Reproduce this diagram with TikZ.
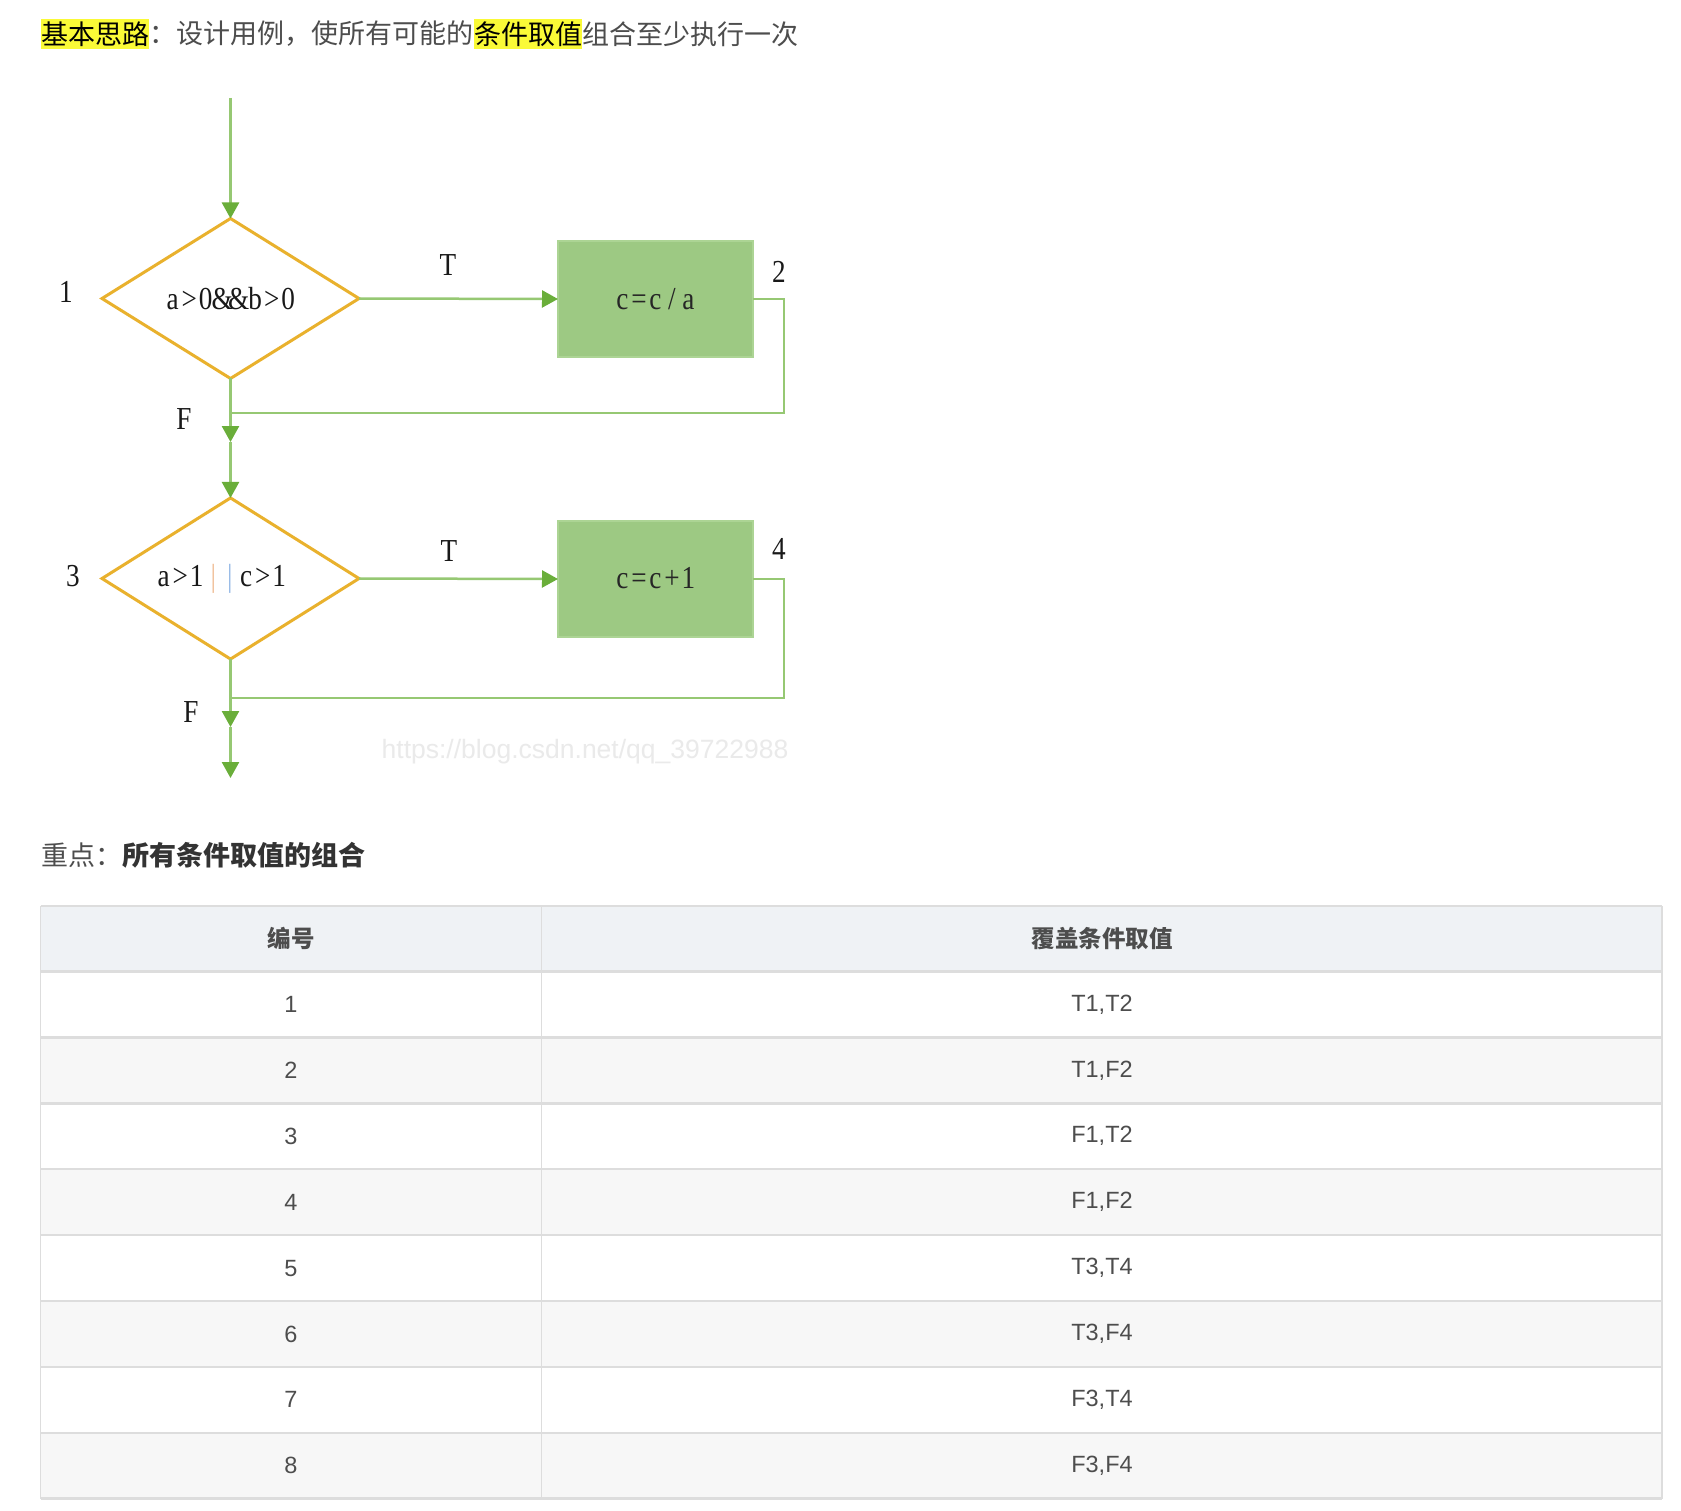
\documentclass[tikz,border=0pt]{standalone}
\usepackage{fontspec}
\setmainfont{Liberation Sans}
\newfontfamily\cjk{Noto Sans CJK SC}
\newfontfamily\diagfont[FakeStretch=0.85]{Liberation Serif}
\usetikzlibrary{shapes.geometric,arrows.meta}
\definecolor{linegreen}{RGB}{150,200,115}
\definecolor{tipgreen}{RGB}{106,174,58}
\definecolor{boxgreen}{RGB}{157,201,131}
\definecolor{boxedge}{RGB}{172,212,148}
\definecolor{gold}{RGB}{233,177,45}
\definecolor{hl}{RGB}{250,250,55}
\definecolor{txt}{RGB}{77,77,77}
\definecolor{hdrbg}{RGB}{239,242,245}
\definecolor{rowbg}{RGB}{247,247,247}
\definecolor{gridc}{RGB}{221,221,221}
\definecolor{wmc}{RGB}{234,234,234}
\definecolor{barA}{RGB}{240,190,150}
\definecolor{barB}{RGB}{150,185,230}
\newcommand\fw[1]{\makebox[16.5pt]{#1}}
\tikzset{
  titletext/.style={anchor=west, inner sep=0pt, minimum height=30pt, text=txt,
    font=\cjk\fontsize{27pt}{30pt}\selectfont},
  dia/.style={diamond, draw=gold, line width=3pt, minimum width=257pt, minimum height=160pt,
    inner sep=0pt, outer sep=0pt, text=black!90, font=\diagfont\fontsize{32pt}{36pt}\selectfont},
  proc/.style={rectangle, fill=boxgreen, draw=boxedge, line width=1.5pt, minimum width=195pt,
    minimum height=116pt, inner sep=0pt, outer sep=0pt, text=black!85,
    font=\diagfont\fontsize{32pt}{36pt}\selectfont},
  lbl/.style={inner sep=0pt, text=black!90, font=\diagfont\fontsize{32pt}{36pt}\selectfont},
  flow/.style={draw=linegreen, line width=2.5pt},
  flowarrow/.style={flow, -{Triangle[length=16pt,width=17pt,color=tipgreen]}},
  hdr/.style={inner sep=0pt, text=txt, font=\cjk\bfseries\fontsize{23.5pt}{26pt}\selectfont},
  cell/.style={inner sep=0pt, text=txt, font=\fontsize{23.5pt}{26pt}\selectfont},
}
\begin{document}
\begin{tikzpicture}[x=1pt,y=-1pt]
\useasboundingbox[fill=white] (0,0) rectangle (1681,1511);

% title
\node[titletext, fill=hl, text=black] (t1) at (41,34) {基本思路};
\node[titletext] (t2) at (t1.east) {：设计用例，使所有可能的};
\node[titletext, fill=hl, text=black] (t3) at (t2.east) {条件取值};
\node[titletext] (t4) at (t3.east) {组合至少执行一次};

% flowchart
\coordinate (s0) at (230.5,98);
\node[dia] (d1) at (230.5,298.5) {\fw{a}\fw{>}\fw{0}\fw{\&}\fw{\&}\fw{b}\fw{>}\fw{0}};
\node[proc] (b1) at (655.5,299) {\raisebox{-3pt}{\fw{c}\fw{=}\fw{c}\fw{/}\fw{a}}};
\node[dia] (d2) at (230.5,578.5) {\hspace*{-9pt}\fw{a}\fw{>}\fw{1}\fw{\textcolor{barA}{|}}\fw{\textcolor{barB}{|}}\fw{c}\fw{>}\fw{1}\hspace*{9pt}};
\node[proc] (b2) at (655.5,579) {\raisebox{3pt}{\fw{c}\fw{=}\fw{c}\fw{+}\fw{1}}};
\coordinate (j1) at (230.5,413);
\coordinate (m1) at (230.5,442);
\coordinate (j2) at (230.5,698);
\coordinate (m2) at (230.5,727);
\coordinate (e0) at (230.5,778);

\node[lbl] (l1) at (66,292) {1};
\node[lbl] (l2) at (779,272) {2};
\node[lbl] (l3) at (73,576) {3};
\node[lbl] (l4) at (779,549) {4};
\node[lbl] (tA) at (448,265) {T};
\node[lbl] (tB) at (449,551) {T};
\node[lbl] (fA) at (184,419) {F};
\node[lbl] (fB) at (191,712) {F};

\draw[flowarrow] (s0) -- (d1.north);
\draw[flowarrow] (d1.east) -- (b1.west);
\draw[flow] (b1.east) -- ++(31,0) |- (j1);
\draw[flowarrow] (d1.south) -- (m1);
\draw[flowarrow] (m1) -- (d2.north);
\draw[flowarrow] (d2.east) -- (b2.west);
\draw[flow] (b2.east) -- ++(31,0) |- (j2);
\draw[flowarrow] (d2.south) -- (m2);
\draw[flowarrow] (m2) -- (e0);

\node[inner sep=0pt, text=wmc, font=\fontsize{26.5pt}{30pt}\selectfont] (wm) at (585,752) {https://blog.csdn.net/qq\_39722988};

% key point
\node[titletext] (k1) at (41,855.5) {重点：};
\node[titletext, text=black!80, font=\cjk\bfseries\fontsize{27pt}{30pt}\selectfont] (k2) at (k1.east) {所有条件取值的组合};

% table
\fill[hdrbg] (40.7,906) rectangle (1661.8,971.5);
\foreach \k in {2,4,6,8}{
  \fill[rowbg] (40.7,{971.5+65.9*(\k-1)}) rectangle (1661.8,{971.5+65.9*\k});
}
\draw[gridc, line width=1.5pt] (40.7,906) -- (40.7,1498.7);
\draw[gridc, line width=1.5pt] (541.4,906) -- (541.4,1498.7);
\draw[gridc, line width=1.5pt] (1661.8,906) -- (1661.8,1498.7);
\draw[gridc, line width=1.5pt] (40.7,906) -- (1661.8,906);
\foreach \k in {0,...,8}{
  \draw[gridc, line width=2.5pt] (40.7,{971.5+65.9*\k}) -- (1661.8,{971.5+65.9*\k});
}
\node[hdr] (h1) at (291,938.7) {编号};
\node[hdr] (h2) at (1102,938.7) {覆盖条件取值};
\foreach \i/\v in {1/{T1,T2},2/{T1,F2},3/{F1,T2},4/{F1,F2},5/{T3,T4},6/{T3,F4},7/{F3,T4},8/{F3,F4}}{
  \node[cell] (n\i) at (291,{971.5+65.9*(\i-0.5)}) {\i};
  \node[cell] (v\i) at (1102,{971.5+65.9*(\i-0.5)}) {\v};
}
\end{tikzpicture}
\end{document}
